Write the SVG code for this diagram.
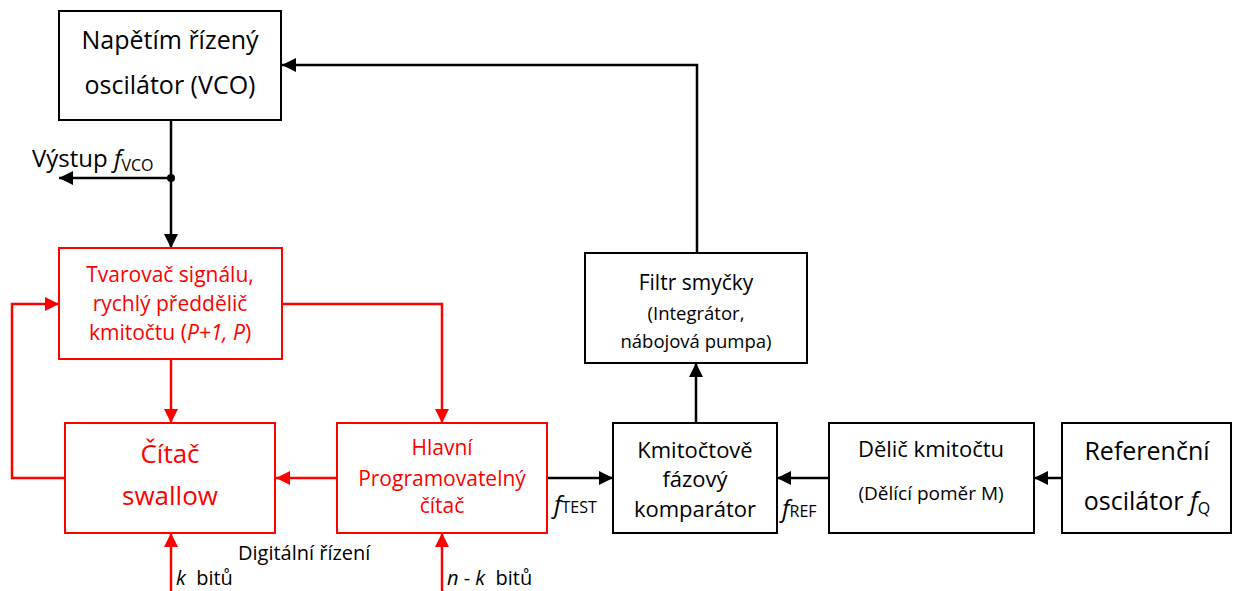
<svg xmlns="http://www.w3.org/2000/svg" width="1235" height="591" viewBox="0 0 1235 591">
  <style>
    text { font-family: "Open Sans", "Liberation Sans", sans-serif; text-anchor: middle; }
    .box { fill: #fff; stroke: #000; stroke-width: 2; }
    .rbox { fill: #fff; stroke: #ff0000; stroke-width: 2; }
    .blk { fill: #000; }
    .red { fill: #ff0000; }
    .wire { fill: none; stroke: #000; stroke-width: 2.5; }
    .rwire { fill: none; stroke: #ff0000; stroke-width: 2.5; }
    .lbl { text-anchor: start; fill: #000; }
    .sub { font-size: 16px; }
  </style>
  <defs>
    <marker id="ah" viewBox="0 0 14 14" refX="14" refY="7" markerWidth="14" markerHeight="14" markerUnits="userSpaceOnUse" orient="auto">
      <path d="M0,0 L14,7 L0,14 Z" fill="#000"/>
    </marker>
    <marker id="ahr" viewBox="0 0 14 14" refX="14" refY="7" markerWidth="14" markerHeight="14" markerUnits="userSpaceOnUse" orient="auto">
      <path d="M0,0 L14,7 L0,14 Z" fill="#ff0000"/>
    </marker>
  </defs>

  <!-- connectors -->
  <g id="connectors">
    <path class="wire" d="M171,120 V248" marker-end="url(#ah)"/>
    <path class="wire" d="M171,178 H59" marker-end="url(#ah)"/>
    <circle cx="171" cy="178" r="4" fill="#000"/>
    <path class="wire" d="M697,253 V65 H282" marker-end="url(#ah)"/>
    <path class="wire" d="M696,423 V363" marker-end="url(#ah)"/>
    <path class="wire" d="M547,478 H613" marker-end="url(#ah)"/>
    <path class="wire" d="M829,478 H777" marker-end="url(#ah)"/>
    <path class="wire" d="M1062,478 H1034" marker-end="url(#ah)"/>

    <path class="rwire" d="M171,359 V423" marker-end="url(#ahr)"/>
    <path class="rwire" d="M282,304 H442 V423" marker-end="url(#ahr)"/>
    <path class="rwire" d="M337,478 H276" marker-end="url(#ahr)"/>
    <path class="rwire" d="M65,478 H12 V304 H59" marker-end="url(#ahr)"/>
    <path class="rwire" d="M171,591 V533" marker-end="url(#ahr)"/>
    <path class="rwire" d="M442,591 V533" marker-end="url(#ahr)"/>
  </g>

  <!-- voltage controlled oscillator -->
  <g id="vco">
    <rect class="box" x="59" y="11" width="222" height="109"/>
    <text class="blk" x="170" y="49" font-size="25">Napětím řízený</text>
    <text class="blk" x="170" y="94" font-size="25">oscilátor (VCO)</text>
  </g>

  <g id="output-label">
    <text class="lbl" x="32" y="167" font-size="24">Výstup <tspan font-style="italic">f</tspan><tspan class="sub" dy="4">VCO</tspan></text>
  </g>

  <!-- prescaler -->
  <g id="prescaler">
    <rect class="rbox" x="59" y="248" width="223" height="111"/>
    <text class="red" x="170" y="282" font-size="21">Tvarovač signálu,</text>
    <text class="red" x="170" y="311" font-size="21">rychlý předdělič</text>
    <text class="red" x="170" y="340" font-size="21">kmitočtu (<tspan font-style="italic">P+1, P</tspan>)</text>
  </g>

  <!-- swallow counter -->
  <g id="swallow">
    <rect class="rbox" x="65" y="423" width="210" height="110"/>
    <text class="red" x="170" y="463" font-size="26">Čítač</text>
    <text class="red" x="170" y="505" font-size="26">swallow</text>
  </g>

  <!-- main programmable counter -->
  <g id="main-counter">
    <rect class="rbox" x="337" y="423" width="210" height="110"/>
    <text class="red" x="442" y="455" font-size="21">Hlavní</text>
    <text class="red" x="442" y="486" font-size="21">Programovatelný</text>
    <text class="red" x="442" y="513" font-size="21">čítač</text>
  </g>

  <!-- phase / frequency comparator -->
  <g id="comparator">
    <rect class="box" x="613" y="423" width="164" height="110"/>
    <text class="blk" x="695" y="458" font-size="22">Kmitočtově</text>
    <text class="blk" x="695" y="487" font-size="22">fázový</text>
    <text class="blk" x="695" y="517" font-size="22">komparátor</text>
  </g>

  <!-- loop filter -->
  <g id="loop-filter">
    <rect class="box" x="585" y="253" width="222" height="110"/>
    <text class="blk" x="696" y="290" font-size="21">Filtr smyčky</text>
    <text class="blk" x="696" y="320" font-size="18.5">(Integrátor,</text>
    <text class="blk" x="696" y="348" font-size="18.5">nábojová pumpa)</text>
  </g>

  <!-- reference divider -->
  <g id="ref-divider">
    <rect class="box" x="829" y="423" width="205" height="110"/>
    <text class="blk" x="931" y="457" font-size="22">Dělič kmitočtu</text>
    <text class="blk" x="931" y="500" font-size="19">(Dělící poměr M)</text>
  </g>

  <!-- reference oscillator -->
  <g id="ref-osc">
    <rect class="box" x="1062" y="423" width="169" height="110"/>
    <text class="blk" x="1147" y="460" font-size="25">Referenční</text>
    <text class="blk" x="1147" y="510" font-size="25">oscilátor <tspan font-style="italic">f</tspan><tspan class="sub" dy="4">Q</tspan></text>
  </g>

  <!-- signal labels -->
  <g id="labels">
    <text class="lbl" x="554" y="513" font-size="24"><tspan font-style="italic">f</tspan><tspan class="sub">TEST</tspan></text>
    <text class="lbl" x="782" y="517" font-size="24"><tspan font-style="italic">f</tspan><tspan class="sub">REF</tspan></text>
    <text class="lbl" x="238" y="560" font-size="20">Digitální řízení</text>
    <text class="lbl" x="176" y="585" font-size="20" xml:space="preserve"><tspan font-style="italic">k</tspan>  bitů</text>
    <text class="lbl" x="447" y="585" font-size="20" xml:space="preserve"><tspan font-style="italic">n</tspan> - <tspan font-style="italic">k</tspan>  bitů</text>
  </g>
</svg>
